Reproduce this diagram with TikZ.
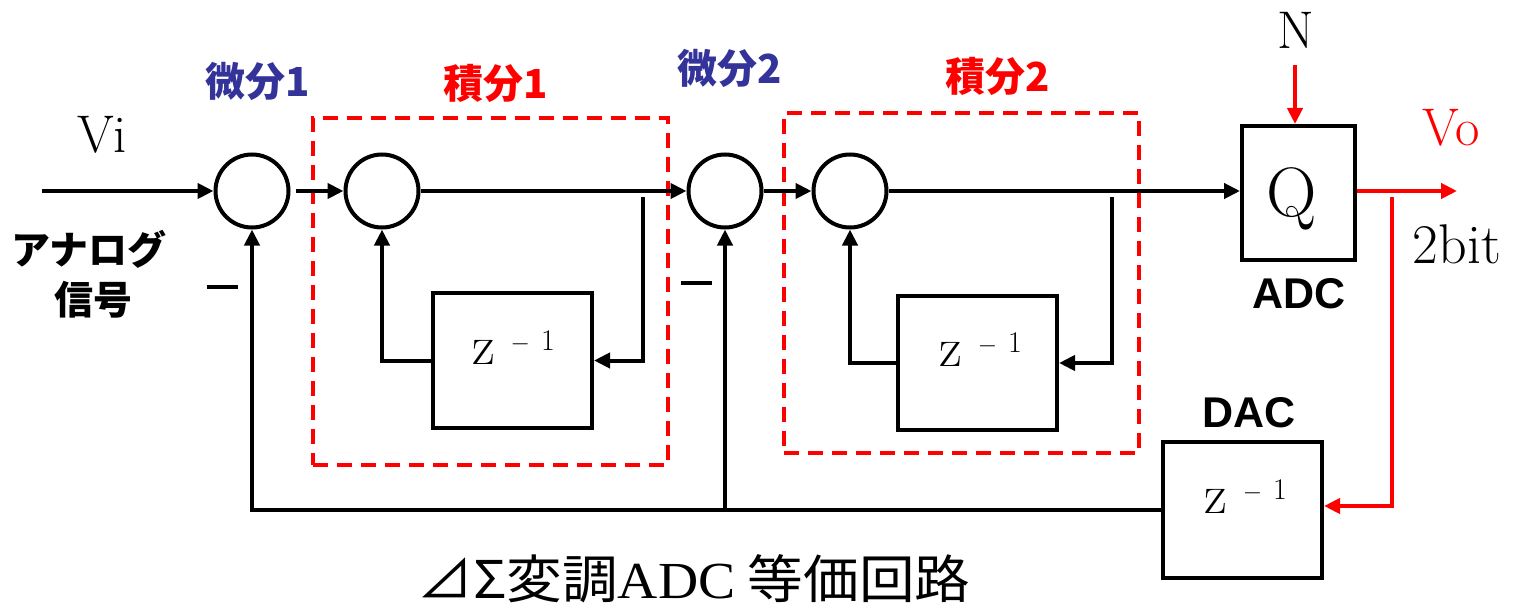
\documentclass[tikz,border=0pt]{standalone}
\usepackage{fontspec}
\newfontfamily\jp{Noto Sans CJK JP}
\newfontfamily\lsans{Liberation Sans}
\newfontfamily\lserif{Liberation Serif}
\usetikzlibrary{arrows.meta,calc}
\definecolor{dblue}{RGB}{51,51,153}
\definecolor{pred}{RGB}{255,0,0}
\newcommand\zinv{{\fontsize{56}{56}\selectfont z}\hspace{16pt}\raisebox{14pt}{\fontsize{30}{30}\selectfont$-$\hspace{11pt}1}}
\newcommand\fs[1]{\fontsize{#1}{#1}\selectfont}
\begin{document}
\begin{tikzpicture}[x=1pt,y=-1pt,line width=4pt,
  sum/.style={circle,draw,line width=4pt,minimum size=73pt,inner sep=0pt},
  blk/.style={draw,line width=4pt,inner sep=0pt},
  arr/.style={-{Triangle[length=16pt,width=15pt]}},
  grp/.style={draw=pred,dash pattern=on 15pt off 9pt,line width=4pt,inner sep=0pt},
  jlab/.style={font=\jp\bfseries\fs{40},anchor=base,inner sep=0pt},
  slab/.style={font=\lsans\bfseries\fs{43},anchor=base,inner sep=0pt},
  rlab/.style={font=\fs{53},anchor=base,inner sep=0pt},
  zl/.style={anchor=base west,inner sep=0pt},
  minus/.style={inner sep=0pt}]
\useasboundingbox (0,0) rectangle (1522,607);

% dashed integrator groups
\node[grp,minimum width=355pt,minimum height=347pt] (g1) at (490.5,291.5) {};
\node[grp,minimum width=355pt,minimum height=340pt] (g2) at (961.5,283) {};

% summing junctions
\node[sum] (s1) at (252,191) {};
\node[sum] (s2) at (382,191) {};
\node[sum] (s3) at (725,191) {};
\node[sum] (s4) at (850,191) {};

% blocks
\node[blk,minimum width=159pt,minimum height=135pt] (d1) at (512.5,360.5) {};
\node[blk,minimum width=159pt,minimum height=134pt] (d2) at (977.5,363) {};
\node[blk,minimum width=113pt,minimum height=134pt] (q) at (1298.5,193) {};
\node[blk,minimum width=159pt,minimum height=136pt] (dac) at (1242.5,510) {};

\node[zl] (z1) at ($(d1.north west)+(39,73)$) {\zinv};
\node[zl] (z2) at ($(d2.north west)+(41,72)$) {\zinv};
\node[zl] (z3) at ($(dac.north west)+(41,73)$) {\zinv};
\node[anchor=base,inner sep=0pt,font=\fs{70}] (qt) at (1292,216) {Q};

% labels
\node[jlab,text=dblue] (l1) at (258,97) {微分1};
\node[jlab,text=pred] (l2) at (496,99) {積分1};
\node[jlab,text=dblue] (l3) at (730,84) {微分2};
\node[jlab,text=pred] (l4) at (998,92) {積分2};
\node[rlab] (vi) at (102,153) {Vi};
\node[rlab] (n) at (1296,49) {N};
\node[rlab,text=pred] (vo) at (1451,145) {Vo};
\node[rlab,font=\fs{56}] (bit) at (1457,263) {2bit};
\node[slab] (adc) at (1299,308) {ADC};
\node[slab] (dacl) at (1249,427) {DAC};
\node[jlab,font=\jp\bfseries\fs{39}] (an) at (89,264) {アナログ};
\node[jlab,font=\jp\bfseries\fs{39}] (sg) at (93,314) {信号};
\node[minus] (m1) at (222,287) {\rule{31pt}{4pt}};
\node[minus] (m2) at (696,283) {\rule{31pt}{4pt}};
\node[anchor=base,inner sep=0pt,font=\jp\fs{52}] (cap) at (694,598) {\scalebox{1.07}[1]{⊿Σ変調{\lserif ADC} 等価回路}};

% coordinates
\coordinate (in) at (42,191);
\coordinate (t1) at (643,197);
\coordinate (t2) at (1112,197);
\coordinate (nt) at (1295,65);
\coordinate (out) at (1457,191);
\coordinate (br) at (1392,197);
\coordinate (j) at (s3.south |- dac.west);

% forward path
\draw[arr] (in) -- (s1.west);
\draw[arr] ([xshift=5pt]s1.east) -- (s2.west);
\draw[arr] (s2.east) -- (s3.west);
\draw[arr] (s3.east) -- (s4.west);
\draw[arr] (s4.east) -- (s4.east -| q.west);

% integrator loops
\draw[arr] (t1) |- (d1.east);
\draw[arr] (d1.west) -| (s2.south);
\draw[arr] (t2) |- (d2.east);
\draw[arr] (d2.west) -| (s4.south);

% quantizer and output
\draw[arr,pred] (nt) -- (q.north -| nt);
\draw[arr,pred] (out -| q.east) -- (out);
\draw[arr,pred] (br) |- ([yshift=4pt]dac.east);

% feedback
\draw[arr] (dac.west) -| (s1.south);
\draw[arr] (j) -- (s3.south);
\end{tikzpicture}
\end{document}
